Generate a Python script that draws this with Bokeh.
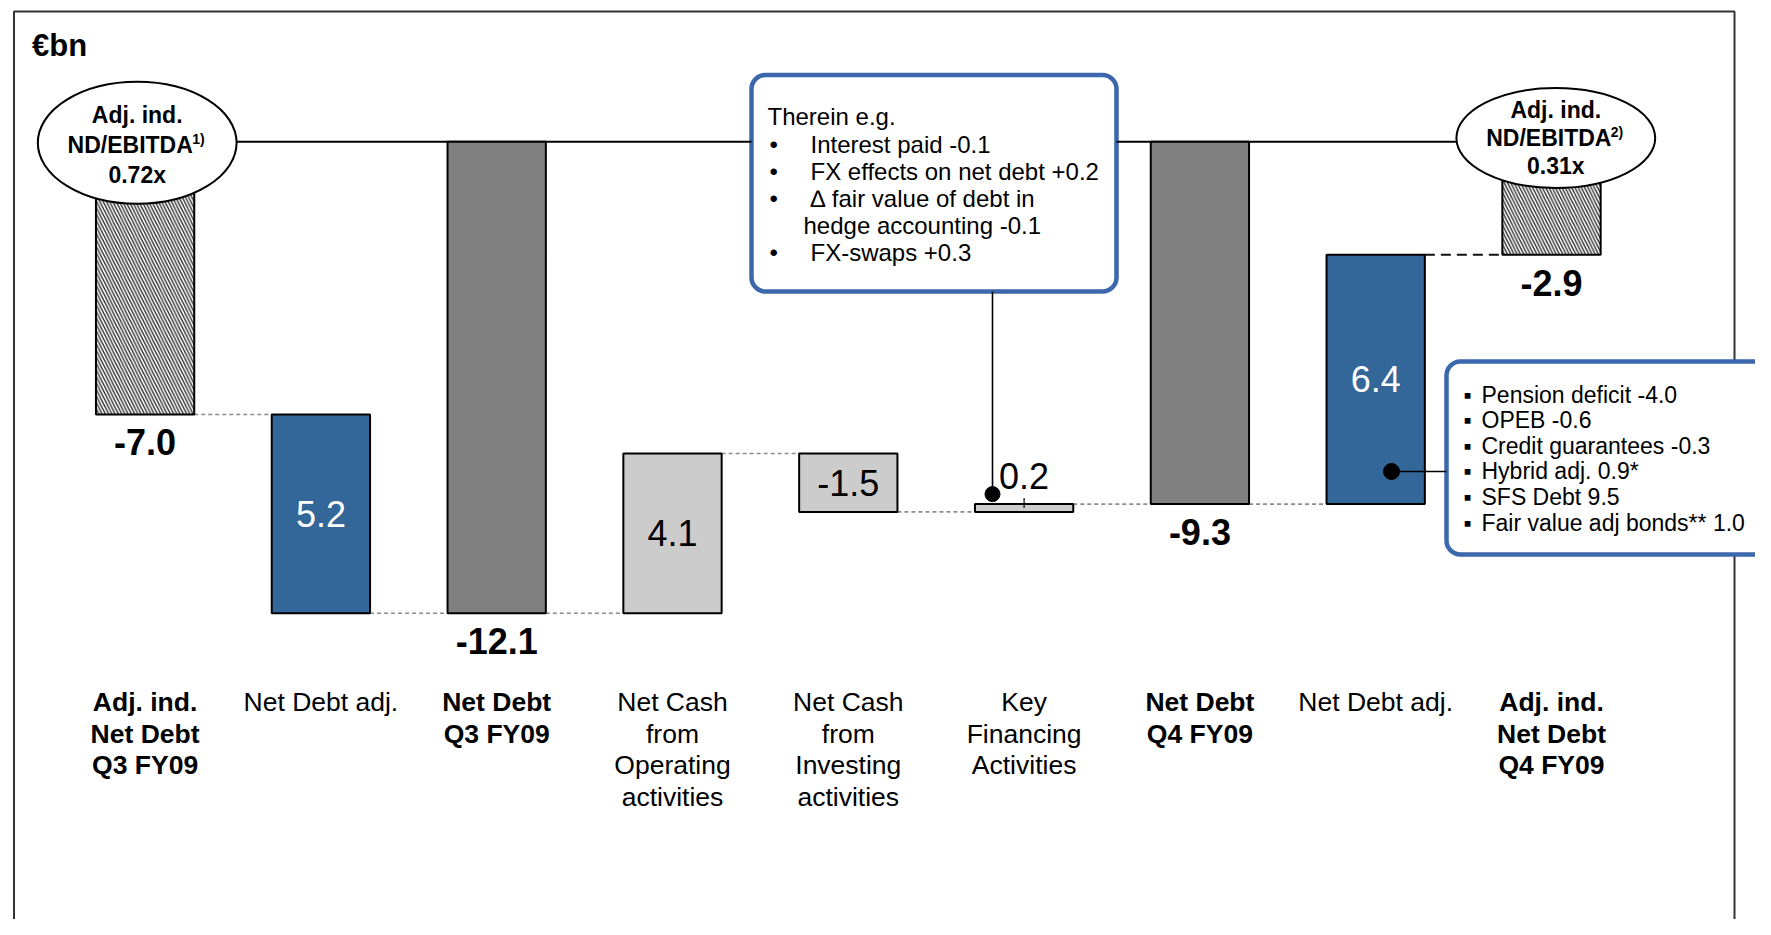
from bokeh.plotting import figure
from bokeh.models import Range1d, BoxAnnotation, ColumnDataSource
from bokeh.core.properties import value
from bokeh.embed import file_html
from bokeh.resources import INLINE

# ---------------- data ----------------
unit_label = "€bn"
categories = [
    ["Adj. ind.", "Net Debt", "Q3 FY09"],
    ["Net Debt adj."],
    ["Net Debt", "Q3 FY09"],
    ["Net Cash", "from", "Operating", "activities"],
    ["Net Cash", "from", "Investing", "activities"],
    ["Key", "Financing", "Activities"],
    ["Net Debt", "Q4 FY09"],
    ["Net Debt adj."],
    ["Adj. ind.", "Net Debt", "Q4 FY09"],
]
category_bold = [True, False, True, False, False, False, True, False, True]
values = [-7.0, 5.2, -12.1, 4.1, -1.5, 0.2, -9.3, 6.4, -2.9]
kinds = ["adj_total", "adj", "total", "flow", "flow", "flow", "total", "adj", "adj_total"]
ratio_title = ["Adj. ind.", "ND/EBITDA"]
ratio_notes = ["1)", "2)"]
ratio_values = ["0.72x", "0.31x"]
financing_title = "Therein e.g."
financing_items = ["Interest paid -0.1", "FX effects on net debt +0.2",
                   "\u2206 fair value of debt in", "hedge accounting -0.1", "FX-swaps +0.3"]
financing_bullets = [True, True, True, False, True]
adj_items = ["Pension deficit -4.0", "OPEB -0.6", "Credit guarantees -0.3",
             "Hybrid adj. 0.9*", "SFS Debt 9.5", "Fair value adj bonds** 1.0"]

# ---------------- geometry helpers ----------------
W, H = 1755, 919
SX = 175.8          # px per category
SY = 38.97          # px per €bn
XS = -144.6 / SX
XE = XS + W / SX
YE = 141.2 / SY
YS = YE - H / SY


def X(px):
    return XS + px / SX


def Y(py):
    return YE - py / SY


FONT = "Liberation Sans"
BAR_W = 98.3 / SX

# ---------------- waterfall computation ----------------
tops, bottoms, levels = [], [], []
level = 0.0
for i, (v, k) in enumerate(zip(values, kinds)):
    if k in ("total", "adj_total"):
        t, b = 0.0, v
        level = v
    elif k == "flow":
        new = level + v
        t, b = max(level, new), min(level, new)
        level = new
    else:  # adjustment spans from previous total to next total
        nxt = values[i + 1]
        t, b = max(level, nxt), min(level, nxt)
        level = nxt
    tops.append(t)
    bottoms.append(b)
    levels.append(level)

colors = {"adj_total": "white", "adj": "#336699", "total": "#808080", "flow": "#CCCCCC"}

p = figure(width=W, height=H, x_range=Range1d(XS, XE), y_range=Range1d(YS, YE),
           output_backend="svg", toolbar_location=None,
           x_axis_location=None, y_axis_location=None, min_border=0,
           outline_line_color=None, background_fill_color="white",
           border_fill_color="white")
p.grid.visible = False

# frame (underlay, below the callout boxes)
frame = BoxAnnotation(left=X(13.5), right=X(1734), top=Y(11), bottom=Y(1100),
                      fill_alpha=0, line_color="#333333", line_alpha=1, line_width=2,
                      level="underlay")
p.add_layout(frame)

# boxes (underlay)
BLUE_LINE = "#3B67AD"
box1 = BoxAnnotation(left=X(751), right=X(1116), top=Y(74.5), bottom=Y(291),
                     fill_color="white", fill_alpha=1, line_color=BLUE_LINE, line_alpha=1,
                     line_width=4.5, border_radius=14, level="underlay")
box2 = BoxAnnotation(left=X(1446), right=X(1800), top=Y(361), bottom=Y(554),
                     fill_color="white", fill_alpha=1, line_color=BLUE_LINE, line_alpha=1,
                     line_width=4.5, border_radius=14, level="underlay")
p.add_layout(box1)
p.add_layout(box2)

# zero line (broken where box1 sits)
p.segment(x0=[X(235), X(1116)], y0=[0, 0], x1=[X(751), X(1456)], y1=[0, 0],
          line_color="black", line_width=2)

# connectors
xs = list(range(len(values)))
dot_x0, dot_x1, dot_y = [], [], []
for i in range(len(values) - 2):
    dot_x0.append(i + BAR_W / 2)
    dot_x1.append(i + 1 - BAR_W / 2)
    dot_y.append(levels[i])
p.segment(x0=dot_x0, y0=dot_y, x1=dot_x1, y1=dot_y, line_color="#8c8c8c",
          line_width=1.6, line_dash="4 3")
i = len(values) - 2
p.segment(x0=[i + BAR_W / 2], y0=[levels[i]], x1=[i + 1 - BAR_W / 2], y1=[levels[i]],
          line_color="#111111", line_width=2, line_dash="10 6")

# bars
plain = [j for j in xs if kinds[j] != "adj_total"]
hatched = [j for j in xs if kinds[j] == "adj_total"]
src_plain = ColumnDataSource(dict(x=plain, top=[tops[j] for j in plain],
                                  bottom=[bottoms[j] for j in plain],
                                  color=[colors[kinds[j]] for j in plain]))
p.vbar(x="x", top="top", bottom="bottom", width=BAR_W, fill_color="color",
       line_color="black", line_width=2, source=src_plain)
src_h = ColumnDataSource(dict(x=hatched, top=[tops[j] for j in hatched],
                              bottom=[bottoms[j] for j in hatched]))
p.vbar(x="x", top="top", bottom="bottom", width=BAR_W, fill_color="white",
       line_color="black", line_width=2, hatch_pattern="\\", hatch_scale=6.5,
       hatch_weight=1.4, hatch_color="#333333", source=src_h)

# small tick on tiny bar
for j in xs:
    if kinds[j] == "flow" and abs(values[j]) < 0.5:
        p.segment(x0=[j], x1=[j], y0=[tops[j] + 6 / SY], y1=[tops[j] - 4 / SY],
                  line_color="black", line_width=1.2)

# ellipses
ell = [(136.7, 142.3, 122), (1555.3, 137.5, 100)]
for (cx, cy, hh) in ell:
    p.ellipse(x=X(cx), y=Y(cy), width=198.8 / SX, height=hh / SY,
              fill_color="white", line_color="black", line_width=2)

# ellipse texts
ell_lines = [(136.7, [114, 144.6, 174.5]), (1555.3, [109.6, 137.5, 165.5])]
for k, (cx, ys) in enumerate(ell_lines):
    p.text(x=[X(cx), X(cx)], y=[Y(ys[0]), Y(ys[2])],
           text=[ratio_title[0], ratio_values[k]], text_align="center",
           text_baseline="middle", text_font=value(FONT), text_font_style="bold",
           text_font_size="23px", text_color="black")
    p.text(x=[X(cx - 7)], y=[Y(ys[1])], text=[ratio_title[1]], text_align="center",
           text_baseline="middle", text_font=value(FONT), text_font_style="bold",
           text_font_size="23px", text_color="black")
    p.text(x=[X(cx - 7 + 62)], y=[Y(ys[1] - 6)], text=[ratio_notes[k]], text_align="left",
           text_baseline="middle", text_font=value(FONT), text_font_style="bold",
           text_font_size="14px", text_color="black")

# value labels
lx, ly, lt, lc, lb = [], [], [], [], []
for j in xs:
    txt = f"{values[j]:.1f}"
    if kinds[j] in ("total", "adj_total"):
        lx.append(j); ly.append(bottoms[j] - 28 / SY); lt.append(txt); lc.append("black"); lb.append(True)
    elif abs(values[j]) < 0.5:
        lx.append(j); ly.append(tops[j] + 28 / SY); lt.append(txt); lc.append("black"); lb.append(False)
    else:
        lx.append(j); ly.append((tops[j] + bottoms[j]) / 2); lt.append(txt)
        lc.append("white" if kinds[j] == "adj" else "black"); lb.append(False)
for bold in (True, False):
    idx = [n for n in range(len(lx)) if lb[n] == bold]
    p.text(x=[lx[n] for n in idx], y=[ly[n] for n in idx], text=[lt[n] for n in idx],
           text_color=[lc[n] for n in idx], text_align="center", text_baseline="middle",
           text_font=value(FONT), text_font_size="36px",
           text_font_style="bold" if bold else "normal")

# category labels
for bold in (True, False):
    cx, cy, ct = [], [], []
    for j in xs:
        if category_bold[j] != bold:
            continue
        for k, line in enumerate(categories[j]):
            cx.append(j); cy.append(Y(701.4 + 31.6 * k)); ct.append(line)
    p.text(x=cx, y=cy, text=ct, text_align="center", text_baseline="middle",
           text_font=value(FONT), text_font_size="26.5px", text_color="black",
           text_font_style="bold" if bold else "normal")

# unit label
p.text(x=[X(31.6)], y=[Y(45)], text=[unit_label], text_align="left", text_baseline="middle",
       text_font=value(FONT), text_font_size="31px", text_font_style="bold", text_color="black")

# callout 1: financing
p.segment(x0=[X(992)], x1=[X(992)], y0=[Y(291)], y1=[Y(493.6)], line_color="black", line_width=1.6)
p.scatter(x=[X(992)], y=[Y(493.6)], size=15, color="black")
p.text(x=[X(767)], y=[Y(116)], text=[financing_title], text_align="left", text_baseline="middle",
       text_font=value(FONT), text_font_size="24px", text_color="black")
bx, by, bt, tx, ty, tt = [], [], [], [], [], []
for k, item in enumerate(financing_items):
    yy = Y(143.5 + 27.1 * k)
    if financing_bullets[k]:
        bx.append(X(769)); by.append(yy); bt.append("\u2022")
        tx.append(X(810))
    else:
        tx.append(X(803))
    ty.append(yy); tt.append(item)
p.text(x=bx, y=by, text=bt, text_align="left", text_baseline="middle",
       text_font=value(FONT), text_font_size="24px", text_color="black")
p.text(x=tx, y=ty, text=tt, text_align="left", text_baseline="middle",
       text_font=value(FONT), text_font_size="24px", text_color="black")

# callout 2: net debt adjustments
p.segment(x0=[X(1391)], x1=[X(1446)], y0=[Y(471)], y1=[Y(471)], line_color="black", line_width=1.6)
p.scatter(x=[X(1391)], y=[Y(471)], size=16, color="black")
ay = [Y(394 + 25.6 * k) for k in range(len(adj_items))]
p.text(x=[X(1463)] * len(adj_items), y=ay, text=["\u25aa"] * len(adj_items), text_align="left",
       text_baseline="middle", text_font=value(FONT), text_font_size="23px", text_color="black")
p.text(x=[X(1481)] * len(adj_items), y=ay, text=adj_items, text_align="left",
       text_baseline="middle", text_font=value(FONT), text_font_size="23px", text_color="black")

open("out.html", "w").write(file_html(p, INLINE))
